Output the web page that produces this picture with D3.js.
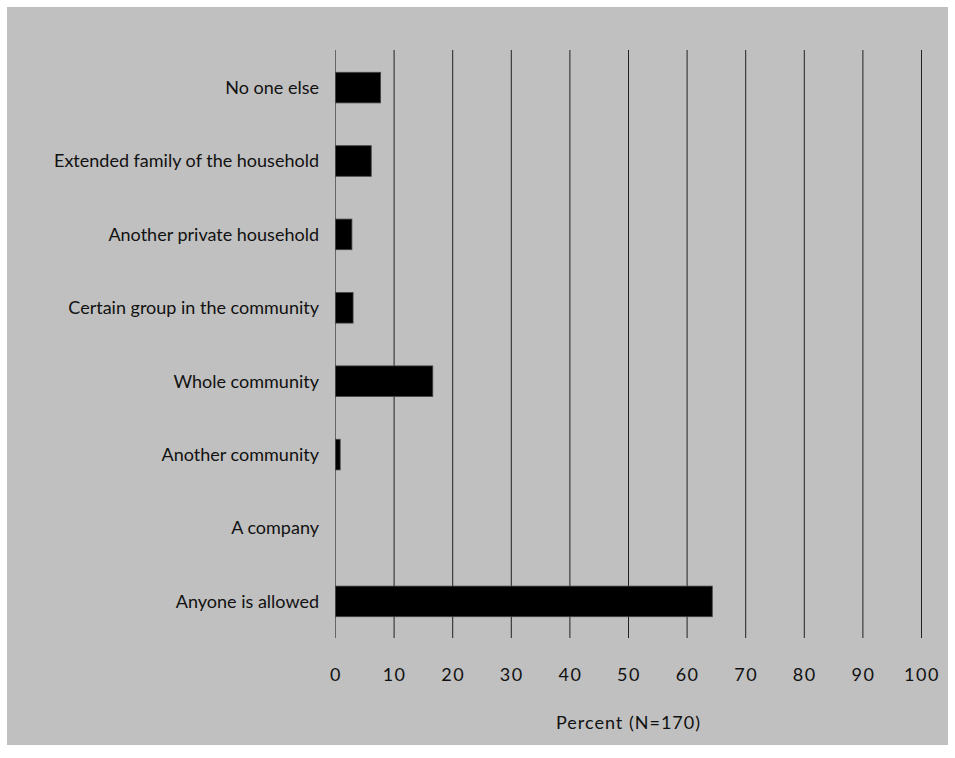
<!DOCTYPE html>
<html>
<head>
<meta charset="utf-8">
<script src="https://cdn.jsdelivr.net/npm/d3@7"></script>
<style>
  html, body { margin: 0; padding: 0; background: #ffffff; }
  svg { display: block; }
  text { font-family: Lato, "Open Sans", sans-serif; fill: #111; }
</style>
</head>
<body>
<svg id="chart" width="955" height="758"></svg>
<script>
const categories = [
  "No one else",
  "Extended family of the household",
  "Another private household",
  "Certain group in the community",
  "Whole community",
  "Another community",
  "A company",
  "Anyone is allowed"
];
const percentValues = [7.7, 6.1, 2.8, 3.0, 16.6, 0.8, 0, 64.3];
const xTicks = [0, 10, 20, 30, 40, 50, 60, 70, 80, 90, 100];
const xTitle = "Percent (N=170)";

const data = categories.map((c, i) => ({ cat: c, val: percentValues[i] }));

const svg = d3.select("#chart");
svg.append("rect").attr("x", 7).attr("y", 7).attr("width", 941).attr("height", 738).attr("fill", "#c0c0c0");

const x = d3.scaleLinear().domain([0, 100]).range([335.5, 921.5]);
const y = d3.scaleBand().domain(categories).range([51, 638]).paddingInner(0.583).paddingOuter(0.29);

// gridlines
svg.append("g").selectAll("line").data(xTicks).join("line")
  .attr("x1", d => x(d)).attr("x2", d => x(d))
  .attr("y1", 50).attr("y2", 638)
  .attr("stroke", d => d === 0 ? "#666" : "#222").attr("stroke-width", 1);

// bars
svg.append("g").selectAll("rect").data(data).join("rect")
  .attr("x", x(0))
  .attr("y", d => y(d.cat))
  .attr("width", d => x(d.val) - x(0))
  .attr("height", y.bandwidth())
  .attr("fill", "#000")
  .attr("stroke", d => d.val > 0 ? "#444" : "none")
  .attr("stroke-width", 0.8);

// category labels
svg.append("g").selectAll("text").data(categories).join("text")
  .attr("x", 319)
  .attr("y", d => y(d) + y.bandwidth() / 2)
  .attr("dy", "0.36em")
  .attr("text-anchor", "end")
  .attr("font-size", 18)
  .text(d => d);

// x axis via d3.axisBottom, styled
const xAxis = d3.axisBottom(x).tickValues(xTicks).tickSize(0).tickPadding(0).tickFormat(d3.format("d"));
const gx = svg.append("g").attr("transform", "translate(0,681)").call(xAxis);
gx.select(".domain").remove();
gx.selectAll("text").attr("y", 0).attr("dy", 0).attr("font-size", 18).attr("fill", "#111")
  .attr("letter-spacing", 1.5)
  .style("font-family", "Lato, 'Open Sans', sans-serif");

svg.append("text")
  .attr("x", (x(0) + x(100)) / 2)
  .attr("y", 729)
  .attr("text-anchor", "middle")
  .attr("font-size", 18)
  .attr("letter-spacing", 1)
  .text(xTitle);
</script>
</body>
</html>
